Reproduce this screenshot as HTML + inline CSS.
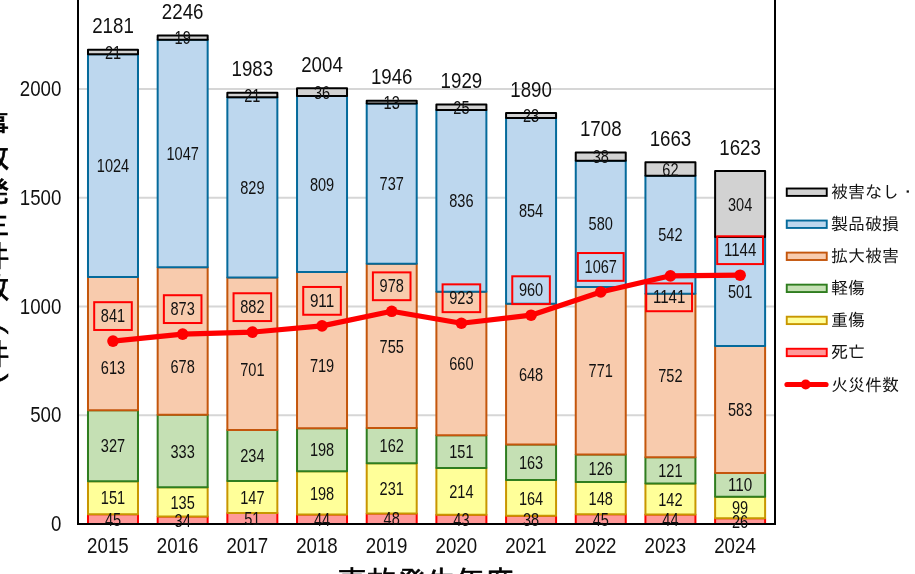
<!DOCTYPE html>
<html lang="ja"><head><meta charset="utf-8"><title>事故発生件数</title>
<style>
html,body{margin:0;padding:0;background:#fff;}
body{width:915px;height:574px;overflow:hidden;position:relative;font-family:"Liberation Sans", "IPAGothic", sans-serif;}
svg{position:absolute;left:0;top:0;display:block;}
svg text{font-family:"Liberation Sans", "IPAGothic", sans-serif;fill:#111;}
.in{font-size:18.2px;text-anchor:middle;}
.tot{font-size:21.4px;text-anchor:middle;}
.ax{font-size:21.4px;}
.lg{font-size:17.05px;}
.ytitle{position:absolute;left:-21.5px;top:109px;width:30px;writing-mode:vertical-rl;text-orientation:upright;font-family:"Liberation Sans","IPAGothic",sans-serif;font-weight:normal;-webkit-text-stroke:0.7px #000;font-size:30px;line-height:30px;letter-spacing:2.8px;color:#000;white-space:nowrap;}
.xtitle{position:absolute;left:336px;top:567.3px;width:180px;text-align:center;font-family:"Liberation Sans","IPAGothic",sans-serif;font-weight:normal;-webkit-text-stroke:0.6px #000;font-size:29.6px;line-height:30px;color:#000;white-space:nowrap;}
</style></head><body>
<svg width="915" height="574" viewBox="0 0 915 574">
<rect x="0" y="0" width="915" height="574" fill="#fff"/>
<rect x="79" y="414.25" width="695" height="2" fill="#D6D6D6"/>
<rect x="79" y="305.50" width="695" height="2" fill="#D6D6D6"/>
<rect x="79" y="196.75" width="695" height="2" fill="#D6D6D6"/>
<rect x="79" y="88.00" width="695" height="2" fill="#D6D6D6"/>
<rect x="87.99" y="514.21" width="50.00" height="9.79" fill="#FF9999" stroke="#FF0000" stroke-width="2" stroke-linejoin="round"/>
<rect x="87.99" y="481.37" width="50.00" height="32.84" fill="#FFFF99" stroke="#C89600" stroke-width="2" stroke-linejoin="round"/>
<rect x="87.99" y="410.25" width="50.00" height="71.12" fill="#C5E0B4" stroke="#2F7D1F" stroke-width="2" stroke-linejoin="round"/>
<rect x="87.99" y="276.92" width="50.00" height="133.33" fill="#F8CBAD" stroke="#C4560C" stroke-width="2" stroke-linejoin="round"/>
<rect x="87.99" y="54.20" width="50.00" height="222.72" fill="#BDD7EE" stroke="#056A9B" stroke-width="2" stroke-linejoin="round"/>
<rect x="87.99" y="49.63" width="50.00" height="4.57" fill="#D2D2D2" stroke="#000000" stroke-width="2" stroke-linejoin="round"/>
<rect x="157.67" y="516.61" width="50.00" height="7.39" fill="#FF9999" stroke="#FF0000" stroke-width="2" stroke-linejoin="round"/>
<rect x="157.67" y="487.24" width="50.00" height="29.36" fill="#FFFF99" stroke="#C89600" stroke-width="2" stroke-linejoin="round"/>
<rect x="157.67" y="414.81" width="50.00" height="72.43" fill="#C5E0B4" stroke="#2F7D1F" stroke-width="2" stroke-linejoin="round"/>
<rect x="157.67" y="267.35" width="50.00" height="147.46" fill="#F8CBAD" stroke="#C4560C" stroke-width="2" stroke-linejoin="round"/>
<rect x="157.67" y="39.63" width="50.00" height="227.72" fill="#BDD7EE" stroke="#056A9B" stroke-width="2" stroke-linejoin="round"/>
<rect x="157.67" y="35.50" width="50.00" height="4.13" fill="#D2D2D2" stroke="#000000" stroke-width="2" stroke-linejoin="round"/>
<rect x="227.35" y="512.91" width="50.00" height="11.09" fill="#FF9999" stroke="#FF0000" stroke-width="2" stroke-linejoin="round"/>
<rect x="227.35" y="480.94" width="50.00" height="31.97" fill="#FFFF99" stroke="#C89600" stroke-width="2" stroke-linejoin="round"/>
<rect x="227.35" y="430.04" width="50.00" height="50.89" fill="#C5E0B4" stroke="#2F7D1F" stroke-width="2" stroke-linejoin="round"/>
<rect x="227.35" y="277.57" width="50.00" height="152.47" fill="#F8CBAD" stroke="#C4560C" stroke-width="2" stroke-linejoin="round"/>
<rect x="227.35" y="97.26" width="50.00" height="180.31" fill="#BDD7EE" stroke="#056A9B" stroke-width="2" stroke-linejoin="round"/>
<rect x="227.35" y="92.70" width="50.00" height="4.57" fill="#D2D2D2" stroke="#000000" stroke-width="2" stroke-linejoin="round"/>
<rect x="297.03" y="514.43" width="50.00" height="9.57" fill="#FF9999" stroke="#FF0000" stroke-width="2" stroke-linejoin="round"/>
<rect x="297.03" y="471.37" width="50.00" height="43.06" fill="#FFFF99" stroke="#C89600" stroke-width="2" stroke-linejoin="round"/>
<rect x="297.03" y="428.30" width="50.00" height="43.06" fill="#C5E0B4" stroke="#2F7D1F" stroke-width="2" stroke-linejoin="round"/>
<rect x="297.03" y="271.92" width="50.00" height="156.38" fill="#F8CBAD" stroke="#C4560C" stroke-width="2" stroke-linejoin="round"/>
<rect x="297.03" y="95.96" width="50.00" height="175.96" fill="#BDD7EE" stroke="#056A9B" stroke-width="2" stroke-linejoin="round"/>
<rect x="297.03" y="88.13" width="50.00" height="7.83" fill="#D2D2D2" stroke="#000000" stroke-width="2" stroke-linejoin="round"/>
<rect x="366.71" y="513.56" width="50.00" height="10.44" fill="#FF9999" stroke="#FF0000" stroke-width="2" stroke-linejoin="round"/>
<rect x="366.71" y="463.32" width="50.00" height="50.24" fill="#FFFF99" stroke="#C89600" stroke-width="2" stroke-linejoin="round"/>
<rect x="366.71" y="428.08" width="50.00" height="35.24" fill="#C5E0B4" stroke="#2F7D1F" stroke-width="2" stroke-linejoin="round"/>
<rect x="366.71" y="263.87" width="50.00" height="164.21" fill="#F8CBAD" stroke="#C4560C" stroke-width="2" stroke-linejoin="round"/>
<rect x="366.71" y="103.57" width="50.00" height="160.30" fill="#BDD7EE" stroke="#056A9B" stroke-width="2" stroke-linejoin="round"/>
<rect x="366.71" y="100.75" width="50.00" height="2.83" fill="#D2D2D2" stroke="#000000" stroke-width="2" stroke-linejoin="round"/>
<rect x="436.39" y="514.65" width="50.00" height="9.35" fill="#FF9999" stroke="#FF0000" stroke-width="2" stroke-linejoin="round"/>
<rect x="436.39" y="468.10" width="50.00" height="46.55" fill="#FFFF99" stroke="#C89600" stroke-width="2" stroke-linejoin="round"/>
<rect x="436.39" y="435.26" width="50.00" height="32.84" fill="#C5E0B4" stroke="#2F7D1F" stroke-width="2" stroke-linejoin="round"/>
<rect x="436.39" y="291.71" width="50.00" height="143.55" fill="#F8CBAD" stroke="#C4560C" stroke-width="2" stroke-linejoin="round"/>
<rect x="436.39" y="109.88" width="50.00" height="181.83" fill="#BDD7EE" stroke="#056A9B" stroke-width="2" stroke-linejoin="round"/>
<rect x="436.39" y="104.44" width="50.00" height="5.44" fill="#D2D2D2" stroke="#000000" stroke-width="2" stroke-linejoin="round"/>
<rect x="506.07" y="515.74" width="50.00" height="8.26" fill="#FF9999" stroke="#FF0000" stroke-width="2" stroke-linejoin="round"/>
<rect x="506.07" y="480.06" width="50.00" height="35.67" fill="#FFFF99" stroke="#C89600" stroke-width="2" stroke-linejoin="round"/>
<rect x="506.07" y="444.61" width="50.00" height="35.45" fill="#C5E0B4" stroke="#2F7D1F" stroke-width="2" stroke-linejoin="round"/>
<rect x="506.07" y="303.67" width="50.00" height="140.94" fill="#F8CBAD" stroke="#C4560C" stroke-width="2" stroke-linejoin="round"/>
<rect x="506.07" y="117.93" width="50.00" height="185.75" fill="#BDD7EE" stroke="#056A9B" stroke-width="2" stroke-linejoin="round"/>
<rect x="506.07" y="112.93" width="50.00" height="5.00" fill="#D2D2D2" stroke="#000000" stroke-width="2" stroke-linejoin="round"/>
<rect x="575.75" y="514.21" width="50.00" height="9.79" fill="#FF9999" stroke="#FF0000" stroke-width="2" stroke-linejoin="round"/>
<rect x="575.75" y="482.02" width="50.00" height="32.19" fill="#FFFF99" stroke="#C89600" stroke-width="2" stroke-linejoin="round"/>
<rect x="575.75" y="454.62" width="50.00" height="27.40" fill="#C5E0B4" stroke="#2F7D1F" stroke-width="2" stroke-linejoin="round"/>
<rect x="575.75" y="286.93" width="50.00" height="167.69" fill="#F8CBAD" stroke="#C4560C" stroke-width="2" stroke-linejoin="round"/>
<rect x="575.75" y="160.77" width="50.00" height="126.15" fill="#BDD7EE" stroke="#056A9B" stroke-width="2" stroke-linejoin="round"/>
<rect x="575.75" y="152.51" width="50.00" height="8.26" fill="#D2D2D2" stroke="#000000" stroke-width="2" stroke-linejoin="round"/>
<rect x="645.43" y="514.43" width="50.00" height="9.57" fill="#FF9999" stroke="#FF0000" stroke-width="2" stroke-linejoin="round"/>
<rect x="645.43" y="483.55" width="50.00" height="30.88" fill="#FFFF99" stroke="#C89600" stroke-width="2" stroke-linejoin="round"/>
<rect x="645.43" y="457.23" width="50.00" height="26.32" fill="#C5E0B4" stroke="#2F7D1F" stroke-width="2" stroke-linejoin="round"/>
<rect x="645.43" y="293.67" width="50.00" height="163.56" fill="#F8CBAD" stroke="#C4560C" stroke-width="2" stroke-linejoin="round"/>
<rect x="645.43" y="175.78" width="50.00" height="117.88" fill="#BDD7EE" stroke="#056A9B" stroke-width="2" stroke-linejoin="round"/>
<rect x="645.43" y="162.30" width="50.00" height="13.49" fill="#D2D2D2" stroke="#000000" stroke-width="2" stroke-linejoin="round"/>
<rect x="715.11" y="518.35" width="50.00" height="5.65" fill="#FF9999" stroke="#FF0000" stroke-width="2" stroke-linejoin="round"/>
<rect x="715.11" y="496.81" width="50.00" height="21.53" fill="#FFFF99" stroke="#C89600" stroke-width="2" stroke-linejoin="round"/>
<rect x="715.11" y="472.89" width="50.00" height="23.93" fill="#C5E0B4" stroke="#2F7D1F" stroke-width="2" stroke-linejoin="round"/>
<rect x="715.11" y="346.09" width="50.00" height="126.80" fill="#F8CBAD" stroke="#C4560C" stroke-width="2" stroke-linejoin="round"/>
<rect x="715.11" y="237.12" width="50.00" height="108.97" fill="#BDD7EE" stroke="#056A9B" stroke-width="2" stroke-linejoin="round"/>
<rect x="715.11" y="171.00" width="50.00" height="66.12" fill="#D2D2D2" stroke="#000000" stroke-width="2" stroke-linejoin="round"/>
<rect x="77" y="0" width="2" height="525" fill="#000"/>
<rect x="774" y="0" width="2" height="525" fill="#000"/>
<rect x="77" y="523" width="699" height="2" fill="#000"/>
<text class="in" x="112.99" y="525.71" textLength="16.20" lengthAdjust="spacingAndGlyphs">45</text>
<text class="in" x="112.99" y="504.39" textLength="24.30" lengthAdjust="spacingAndGlyphs">151</text>
<text class="in" x="112.99" y="452.41" textLength="24.30" lengthAdjust="spacingAndGlyphs">327</text>
<text class="in" x="112.99" y="374.10" textLength="24.30" lengthAdjust="spacingAndGlyphs">613</text>
<text class="in" x="112.99" y="172.16" textLength="32.40" lengthAdjust="spacingAndGlyphs">1024</text>
<text class="in" x="112.99" y="58.52" textLength="16.20" lengthAdjust="spacingAndGlyphs">21</text>
<text class="tot" x="112.99" y="33.23" textLength="41.60" lengthAdjust="spacingAndGlyphs">2181</text>
<text class="in" x="182.67" y="526.90" textLength="16.20" lengthAdjust="spacingAndGlyphs">34</text>
<text class="in" x="182.67" y="508.52" textLength="24.30" lengthAdjust="spacingAndGlyphs">135</text>
<text class="in" x="182.67" y="457.63" textLength="24.30" lengthAdjust="spacingAndGlyphs">333</text>
<text class="in" x="182.67" y="373.00" textLength="24.30" lengthAdjust="spacingAndGlyphs">678</text>
<text class="in" x="182.67" y="160.09" textLength="32.40" lengthAdjust="spacingAndGlyphs">1047</text>
<text class="in" x="182.67" y="44.16" textLength="16.20" lengthAdjust="spacingAndGlyphs">19</text>
<text class="tot" x="182.67" y="19.10" textLength="41.60" lengthAdjust="spacingAndGlyphs">2246</text>
<text class="in" x="252.35" y="525.05" textLength="16.20" lengthAdjust="spacingAndGlyphs">51</text>
<text class="in" x="252.35" y="503.52" textLength="24.30" lengthAdjust="spacingAndGlyphs">147</text>
<text class="in" x="252.35" y="462.09" textLength="24.30" lengthAdjust="spacingAndGlyphs">234</text>
<text class="in" x="252.35" y="375.80" textLength="24.30" lengthAdjust="spacingAndGlyphs">701</text>
<text class="in" x="252.35" y="194.02" textLength="24.30" lengthAdjust="spacingAndGlyphs">829</text>
<text class="in" x="252.35" y="101.58" textLength="16.20" lengthAdjust="spacingAndGlyphs">21</text>
<text class="tot" x="252.35" y="76.30" textLength="41.60" lengthAdjust="spacingAndGlyphs">1983</text>
<text class="in" x="322.03" y="525.81" textLength="16.20" lengthAdjust="spacingAndGlyphs">44</text>
<text class="in" x="322.03" y="499.50" textLength="24.30" lengthAdjust="spacingAndGlyphs">198</text>
<text class="in" x="322.03" y="456.43" textLength="24.30" lengthAdjust="spacingAndGlyphs">198</text>
<text class="in" x="322.03" y="371.70" textLength="24.30" lengthAdjust="spacingAndGlyphs">719</text>
<text class="in" x="322.03" y="190.54" textLength="24.30" lengthAdjust="spacingAndGlyphs">809</text>
<text class="in" x="322.03" y="98.64" textLength="16.20" lengthAdjust="spacingAndGlyphs">36</text>
<text class="tot" x="322.03" y="71.73" textLength="41.60" lengthAdjust="spacingAndGlyphs">2004</text>
<text class="in" x="391.71" y="525.38" textLength="16.20" lengthAdjust="spacingAndGlyphs">48</text>
<text class="in" x="391.71" y="495.04" textLength="24.30" lengthAdjust="spacingAndGlyphs">231</text>
<text class="in" x="391.71" y="452.30" textLength="24.30" lengthAdjust="spacingAndGlyphs">162</text>
<text class="in" x="391.71" y="352.58" textLength="24.30" lengthAdjust="spacingAndGlyphs">755</text>
<text class="in" x="391.71" y="190.32" textLength="24.30" lengthAdjust="spacingAndGlyphs">737</text>
<text class="in" x="391.71" y="108.76" textLength="16.20" lengthAdjust="spacingAndGlyphs">13</text>
<text class="tot" x="391.71" y="84.34" textLength="41.60" lengthAdjust="spacingAndGlyphs">1946</text>
<text class="in" x="461.39" y="525.92" textLength="16.20" lengthAdjust="spacingAndGlyphs">43</text>
<text class="in" x="461.39" y="497.98" textLength="24.30" lengthAdjust="spacingAndGlyphs">214</text>
<text class="in" x="461.39" y="458.28" textLength="24.30" lengthAdjust="spacingAndGlyphs">151</text>
<text class="in" x="461.39" y="370.09" textLength="24.30" lengthAdjust="spacingAndGlyphs">660</text>
<text class="in" x="461.39" y="207.40" textLength="24.30" lengthAdjust="spacingAndGlyphs">836</text>
<text class="in" x="461.39" y="113.76" textLength="16.20" lengthAdjust="spacingAndGlyphs">25</text>
<text class="tot" x="461.39" y="88.04" textLength="41.60" lengthAdjust="spacingAndGlyphs">1929</text>
<text class="in" x="531.07" y="526.47" textLength="16.20" lengthAdjust="spacingAndGlyphs">38</text>
<text class="in" x="531.07" y="504.50" textLength="24.30" lengthAdjust="spacingAndGlyphs">164</text>
<text class="in" x="531.07" y="468.94" textLength="24.30" lengthAdjust="spacingAndGlyphs">163</text>
<text class="in" x="531.07" y="380.74" textLength="24.30" lengthAdjust="spacingAndGlyphs">648</text>
<text class="in" x="531.07" y="217.40" textLength="24.30" lengthAdjust="spacingAndGlyphs">854</text>
<text class="in" x="531.07" y="122.03" textLength="16.20" lengthAdjust="spacingAndGlyphs">23</text>
<text class="tot" x="531.07" y="96.53" textLength="41.60" lengthAdjust="spacingAndGlyphs">1890</text>
<text class="in" x="600.75" y="525.71" textLength="16.20" lengthAdjust="spacingAndGlyphs">45</text>
<text class="in" x="600.75" y="504.72" textLength="24.30" lengthAdjust="spacingAndGlyphs">148</text>
<text class="in" x="600.75" y="474.92" textLength="24.30" lengthAdjust="spacingAndGlyphs">126</text>
<text class="in" x="600.75" y="377.37" textLength="24.30" lengthAdjust="spacingAndGlyphs">771</text>
<text class="in" x="600.75" y="230.45" textLength="24.30" lengthAdjust="spacingAndGlyphs">580</text>
<text class="in" x="600.75" y="163.24" textLength="16.20" lengthAdjust="spacingAndGlyphs">38</text>
<text class="tot" x="600.75" y="136.11" textLength="41.60" lengthAdjust="spacingAndGlyphs">1708</text>
<text class="in" x="670.43" y="525.81" textLength="16.20" lengthAdjust="spacingAndGlyphs">44</text>
<text class="in" x="670.43" y="505.59" textLength="24.30" lengthAdjust="spacingAndGlyphs">142</text>
<text class="in" x="670.43" y="476.99" textLength="24.30" lengthAdjust="spacingAndGlyphs">121</text>
<text class="in" x="670.43" y="382.05" textLength="24.30" lengthAdjust="spacingAndGlyphs">752</text>
<text class="in" x="670.43" y="241.33" textLength="24.30" lengthAdjust="spacingAndGlyphs">542</text>
<text class="in" x="670.43" y="175.64" textLength="16.20" lengthAdjust="spacingAndGlyphs">62</text>
<text class="tot" x="670.43" y="145.90" textLength="41.60" lengthAdjust="spacingAndGlyphs">1663</text>
<text class="in" x="740.11" y="527.77" textLength="16.20" lengthAdjust="spacingAndGlyphs">26</text>
<text class="in" x="740.11" y="514.18" textLength="16.20" lengthAdjust="spacingAndGlyphs">99</text>
<text class="in" x="740.11" y="491.45" textLength="24.30" lengthAdjust="spacingAndGlyphs">110</text>
<text class="in" x="740.11" y="416.09" textLength="24.30" lengthAdjust="spacingAndGlyphs">583</text>
<text class="in" x="740.11" y="298.20" textLength="24.30" lengthAdjust="spacingAndGlyphs">501</text>
<text class="in" x="740.11" y="210.66" textLength="24.30" lengthAdjust="spacingAndGlyphs">304</text>
<text class="tot" x="740.11" y="154.60" textLength="41.60" lengthAdjust="spacingAndGlyphs">1623</text>
<polyline points="112.99,341.08 182.67,334.12 252.35,332.16 322.03,325.86 391.71,311.28 461.39,323.25 531.07,315.20 600.75,291.93 670.43,275.83 740.11,275.18" fill="none" stroke="#FF0000" stroke-width="5.2" stroke-linejoin="round" stroke-linecap="round"/>
<circle cx="112.99" cy="341.08" r="5.8" fill="#FF0000"/>
<circle cx="182.67" cy="334.12" r="5.8" fill="#FF0000"/>
<circle cx="252.35" cy="332.16" r="5.8" fill="#FF0000"/>
<circle cx="322.03" cy="325.86" r="5.8" fill="#FF0000"/>
<circle cx="391.71" cy="311.28" r="5.8" fill="#FF0000"/>
<circle cx="461.39" cy="323.25" r="5.8" fill="#FF0000"/>
<circle cx="531.07" cy="315.20" r="5.8" fill="#FF0000"/>
<circle cx="600.75" cy="291.93" r="5.8" fill="#FF0000"/>
<circle cx="670.43" cy="275.83" r="5.8" fill="#FF0000"/>
<circle cx="740.11" cy="275.18" r="5.8" fill="#FF0000"/>
<rect x="94.19" y="302.18" width="37.60" height="27.80" fill="none" stroke="#FF0000" stroke-width="2"/>
<text class="in" x="112.99" y="322.18" textLength="24.30" lengthAdjust="spacingAndGlyphs">841</text>
<rect x="163.87" y="295.22" width="37.60" height="27.80" fill="none" stroke="#FF0000" stroke-width="2"/>
<text class="in" x="182.67" y="315.22" textLength="24.30" lengthAdjust="spacingAndGlyphs">873</text>
<rect x="233.55" y="293.26" width="37.60" height="27.80" fill="none" stroke="#FF0000" stroke-width="2"/>
<text class="in" x="252.35" y="313.26" textLength="24.30" lengthAdjust="spacingAndGlyphs">882</text>
<rect x="303.23" y="286.96" width="37.60" height="27.80" fill="none" stroke="#FF0000" stroke-width="2"/>
<text class="in" x="322.03" y="306.96" textLength="24.30" lengthAdjust="spacingAndGlyphs">911</text>
<rect x="372.91" y="272.38" width="37.60" height="27.80" fill="none" stroke="#FF0000" stroke-width="2"/>
<text class="in" x="391.71" y="292.38" textLength="24.30" lengthAdjust="spacingAndGlyphs">978</text>
<rect x="442.59" y="284.35" width="37.60" height="27.80" fill="none" stroke="#FF0000" stroke-width="2"/>
<text class="in" x="461.39" y="304.35" textLength="24.30" lengthAdjust="spacingAndGlyphs">923</text>
<rect x="512.27" y="276.30" width="37.60" height="27.80" fill="none" stroke="#FF0000" stroke-width="2"/>
<text class="in" x="531.07" y="296.30" textLength="24.30" lengthAdjust="spacingAndGlyphs">960</text>
<rect x="577.85" y="253.03" width="45.80" height="27.80" fill="none" stroke="#FF0000" stroke-width="2"/>
<text class="in" x="600.75" y="273.03" textLength="32.40" lengthAdjust="spacingAndGlyphs">1067</text>
<rect x="646.23" y="283.43" width="45.80" height="27.80" fill="none" stroke="#FF0000" stroke-width="2"/>
<text class="in" x="669.13" y="303.43" textLength="32.40" lengthAdjust="spacingAndGlyphs">1141</text>
<rect x="717.21" y="236.28" width="45.80" height="27.80" fill="none" stroke="#FF0000" stroke-width="2"/>
<text class="in" x="740.11" y="256.28" textLength="32.40" lengthAdjust="spacingAndGlyphs">1144</text>
<text class="ax" x="61.40" y="531.05" text-anchor="end" textLength="10.40" lengthAdjust="spacingAndGlyphs">0</text>
<text class="ax" x="61.40" y="422.30" text-anchor="end" textLength="31.20" lengthAdjust="spacingAndGlyphs">500</text>
<text class="ax" x="61.40" y="313.55" text-anchor="end" textLength="41.60" lengthAdjust="spacingAndGlyphs">1000</text>
<text class="ax" x="61.40" y="204.80" text-anchor="end" textLength="41.60" lengthAdjust="spacingAndGlyphs">1500</text>
<text class="ax" x="61.40" y="96.05" text-anchor="end" textLength="41.60" lengthAdjust="spacingAndGlyphs">2000</text>
<text class="ax" x="107.89" y="553.10" text-anchor="middle" textLength="41.60" lengthAdjust="spacingAndGlyphs">2015</text>
<text class="ax" x="177.57" y="553.10" text-anchor="middle" textLength="41.60" lengthAdjust="spacingAndGlyphs">2016</text>
<text class="ax" x="247.25" y="553.10" text-anchor="middle" textLength="41.60" lengthAdjust="spacingAndGlyphs">2017</text>
<text class="ax" x="316.93" y="553.10" text-anchor="middle" textLength="41.60" lengthAdjust="spacingAndGlyphs">2018</text>
<text class="ax" x="386.61" y="553.10" text-anchor="middle" textLength="41.60" lengthAdjust="spacingAndGlyphs">2019</text>
<text class="ax" x="456.29" y="553.10" text-anchor="middle" textLength="41.60" lengthAdjust="spacingAndGlyphs">2020</text>
<text class="ax" x="525.97" y="553.10" text-anchor="middle" textLength="41.60" lengthAdjust="spacingAndGlyphs">2021</text>
<text class="ax" x="595.65" y="553.10" text-anchor="middle" textLength="41.60" lengthAdjust="spacingAndGlyphs">2022</text>
<text class="ax" x="665.33" y="553.10" text-anchor="middle" textLength="41.60" lengthAdjust="spacingAndGlyphs">2023</text>
<text class="ax" x="735.01" y="553.10" text-anchor="middle" textLength="41.60" lengthAdjust="spacingAndGlyphs">2024</text>
<rect x="786.75" y="188.50" width="40" height="7.4" fill="#D2D2D2" stroke="#000000" stroke-width="1.9"/>
<text class="lg" x="831" y="198.20">被害なし・</text>
<rect x="786.75" y="220.55" width="40" height="7.4" fill="#BDD7EE" stroke="#056A9B" stroke-width="1.9"/>
<text class="lg" x="831" y="230.25">製品破損</text>
<rect x="786.75" y="252.60" width="40" height="7.4" fill="#F8CBAD" stroke="#C4560C" stroke-width="1.9"/>
<text class="lg" x="831" y="262.30">拡大被害</text>
<rect x="786.75" y="284.65" width="40" height="7.4" fill="#C5E0B4" stroke="#2F7D1F" stroke-width="1.9"/>
<text class="lg" x="831" y="294.35">軽傷</text>
<rect x="786.75" y="316.70" width="40" height="7.4" fill="#FFFF99" stroke="#C89600" stroke-width="1.9"/>
<text class="lg" x="831" y="326.40">重傷</text>
<rect x="786.75" y="348.75" width="40" height="7.4" fill="#FF9999" stroke="#FF0000" stroke-width="1.9"/>
<text class="lg" x="831" y="358.45">死亡</text>
<line x1="787" y1="384.50" x2="826" y2="384.50" stroke="#FF0000" stroke-width="5.2" stroke-linecap="round"/>
<circle cx="805.7" cy="384.50" r="5" fill="#FF0000"/>
<text class="lg" x="831" y="390.50">火災件数</text>
</svg>
<div class="ytitle">事故発生件数（件）</div>
<div class="xtitle">事故発生年度</div>
</body></html>
